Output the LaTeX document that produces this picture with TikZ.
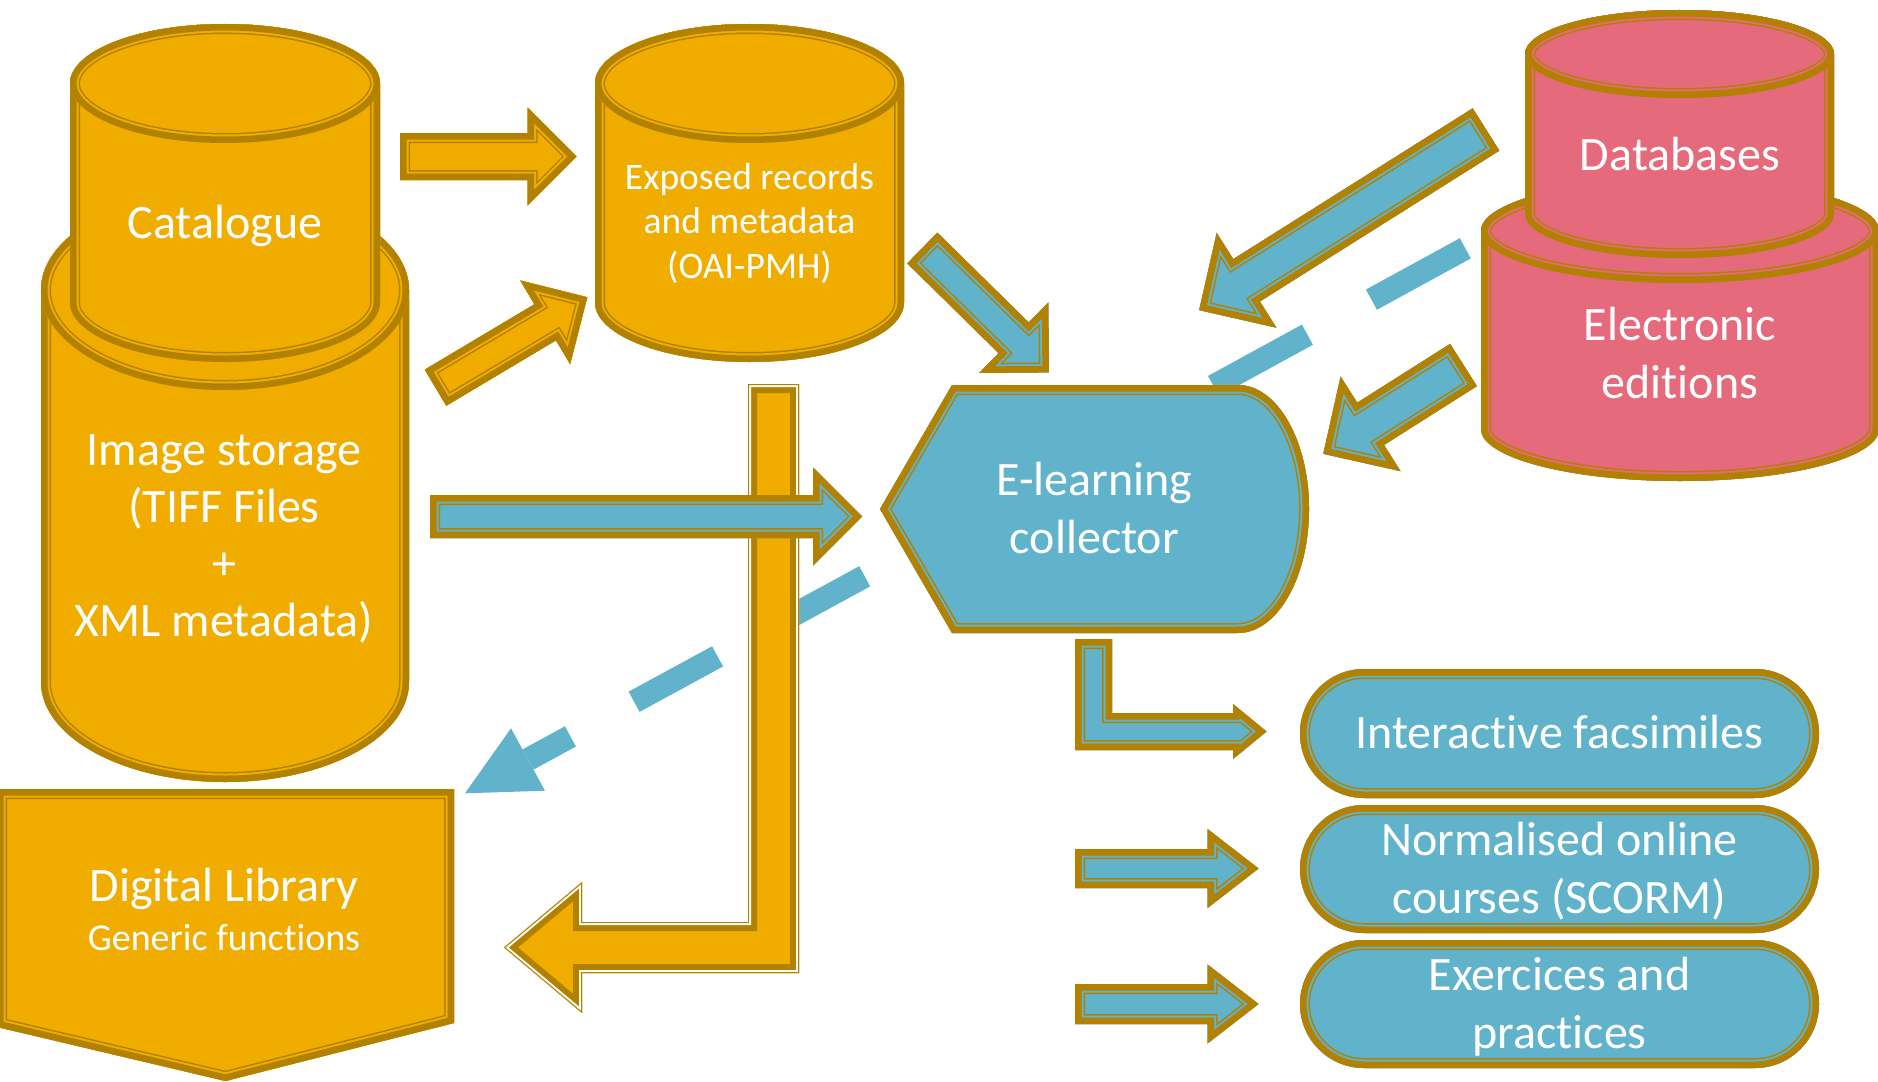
\documentclass[tikz,border=0pt]{standalone}
\usepackage{fontspec}
\setmainfont{Carlito}[Ligatures={NoCommon,NoRequired,NoContextual}]
\definecolor{gold}{RGB}{178,129,0}
\definecolor{orng}{RGB}{240,173,0}
\definecolor{bblue}{RGB}{97,179,203}
\definecolor{pnk}{RGB}{229,106,124}
\newcommand{\nl}{\kern0pt\relax}
% shape with thick outer border, gap in fill colour, thin inner line
\newcommand{\nshape}[2]{%
  \fill[#1] #2;
  \begin{scope}
    \clip #2;
    \draw[gold, line width=20pt] #2;
    \draw[#1, line width=17pt] #2;
    \draw[gold, line width=13pt] #2;
  \end{scope}}
% shape with thin outer line, white gap, thick inner border
\newcommand{\wshape}[2]{%
  \fill[#1] #2;
  \begin{scope}
    \clip #2;
    \draw[gold, line width=18pt] #2;
    \draw[white, line width=6pt] #2;
    \draw[gold, line width=2pt] #2;
  \end{scope}}
% cylinder: fill, cx, top centre y, bottom centre y, rx, ry
\newcommand{\cyl}[6]{%
  \nshape{#1}{({#2-#5},#3) -- ({#2-#5},#4) arc[start angle=180,end angle=0,x radius=#5,y radius=#6] -- ({#2+#5},#3) arc[start angle=0,end angle=-180,x radius=#5,y radius=#6] -- cycle}
  \nshape{#1}{(#2,#3) ellipse[x radius=#5,y radius=#6]}}
% block arrow: fill, tail x, tail y, angle, length, shaft width, head width, head length
\newcommand{\barrow}[8]{%
  \begin{scope}[shift={(#2,#3)},rotate=#4]
    \nshape{#1}{(0,{-(#6)/2}) -- ({#5-#8},{-(#6)/2}) -- ({#5-#8},{-(#7)/2}) -- (#5,0) -- ({#5-#8},{(#7)/2}) -- ({#5-#8},{(#6)/2}) -- (0,{(#6)/2}) -- cycle}
  \end{scope}}
% pill: top y, bottom y
\newcommand{\pill}[2]{%
  \nshape{bblue}{(1364,#1) -- (1755,#1) arc[start angle=-90,end angle=90,x radius=64,y radius={(#2-#1)/2}] -- (1364,#2) arc[start angle=90,end angle=270,x radius=64,y radius={(#2-#1)/2}] -- cycle}}
\tikzset{
  txt/.style={text=white, inner sep=0pt, anchor=base, font=\fontsize{48}{57}\selectfont},
  txtm/.style={txt, font=\fontsize{37.5}{45}\selectfont},
  txtg/.style={txt, font=\fontsize{38}{45}\selectfont},
  dashline/.style={bblue, line width=23pt}
}
\begin{document}
\begin{tikzpicture}[x=1pt,y=-1pt]
\useasboundingbox (0,0) rectangle (1878,1081);
\fill[white] (0,0) rectangle (1878,1081);

% cylinders
\cyl{orng}{225}{290}{682}{184}{100}
\cyl{orng}{225}{83.5}{302.5}{155}{59.5}
\cyl{orng}{749.5}{83.5}{302.5}{154.5}{59.5}
\cyl{pnk}{1680}{231}{429}{199}{52}
\cyl{pnk}{1679.5}{54}{214}{154.5}{44}

% orange block arrows
\barrow{orng}{400}{156.5}{0}{176.5}{47}{98}{49}
\barrow{orng}{435.5}{387.7}{30.8}{176.7}{42}{97.5}{49}

% dashed connectors
\coordinate (d1a) at (864.7,576.3);
\coordinate (d1b) at (528,759.5);
\coordinate (d1t) at (465,793.3);
\coordinate (d1l) at (511,728.3);
\coordinate (d1r) at (545,790.7);
\draw[dashline, dash pattern=on 95pt off 72.5pt] (d1a) -- (d1b);
\fill[bblue] (d1t) -- (d1l) -- (d1r) -- cycle;
\coordinate (d2a) at (1465.3,248.3);
\coordinate (d2b) at (1188,400);
\draw[dashline, dash pattern=on 107pt off 73pt] (d2a) -- (d2b);

% bent orange arrow
\wshape{orng}{(748,384) -- (799,384) -- (799,973) -- (582,973) -- (582,1013) -- (504,947.5) -- (582,882) -- (582,922) -- (748,922) -- cycle}

% blue block arrows
\barrow{bblue}{430}{516.5}{0}{432}{43}{98}{49}
\barrow{bblue}{922.3}{248}{-44.5}{177.5}{43}{98.7}{49.4}
\barrow{bblue}{1486}{129.5}{212.2}{339}{50}{112}{56}
\barrow{bblue}{1463.5}{365}{212.35}{166}{50}{112}{56}

% collector
\nshape{bblue}{(880,509) -- (952,385) -- (1238,385) arc[start angle=-90,end angle=90,x radius=71,y radius=124] -- (952,633) -- cycle}

% digital library
\nshape{orng}{(-3,789) -- (454,789) -- (454,1023) -- (225.5,1081) -- (-3,1027) -- cycle}

% outputs
\nshape{bblue}{(1075,639) -- (1112,639) -- (1112,713) -- (1233,713) -- (1233,704) -- (1266.5,731.5) -- (1233,759) -- (1233,750) -- (1075,750) -- cycle}
\barrow{bblue}{1075}{868.5}{0}{183.5}{39}{79}{51}
\barrow{bblue}{1075}{1004}{0}{183.5}{40}{79}{51}
\pill{669}{798}
\pill{805}{933}
\pill{940}{1068}

% texts
\node[txt] (cat) at (225,238) {Catalogue};
\node[txtm] (exp1) at (749.5,189.3) {Exposed records};
\node[txtm] (exp2) at (749.5,233.5) {and metadata};
\node[txtm] (exp3) at (749.5,278) {(OAI-PMH)};
\node[txt] (img1) at (224,465.5) {Image storage};
\node[txt] (img2) at (224,522.5) {(TIFF Files};
\node[txt] (img3) at (224,579.5) {+};
\node[txt] (img4) at (224,636.5) {XML metadata)};
\node[txt] (db) at (1680,170) {Databases};
\node[txt] (ed1) at (1680,340) {Electronic};
\node[txt] (ed2) at (1680,398) {edit\nl ions};
\node[txt] (col1) at (1094.5,495) {E-learning};
\node[txt] (col2) at (1094.5,553) {collector};
\node[txt] (dl1) at (224,901.7) {Digital Library};
\node[txtg] (dl2) at (224,950) {Generic funct\nl ions};
\node[txt] (p1) at (1559.5,748.3) {Interact\nl ive facsimiles};
\node[txt] (p2a) at (1559.5,855) {Normalised online};
\node[txt] (p2b) at (1559.5,913.3) {courses (SCORM)};
\node[txt] (p3a) at (1559.5,990.7) {Exercices and};
\node[txt] (p3b) at (1559.5,1048.3) {practices};
\end{tikzpicture}
\end{document}
